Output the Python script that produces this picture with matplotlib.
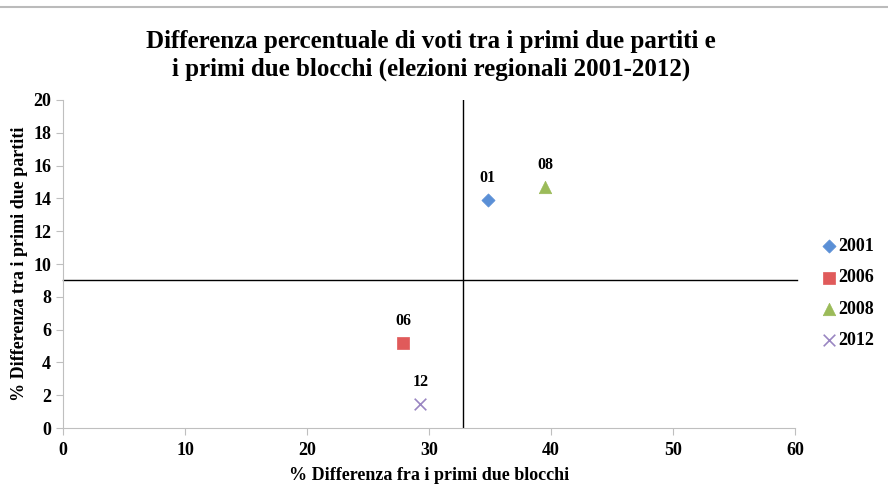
import matplotlib.pyplot as plt

plt.rcParams['font.family'] = ['Liberation Serif', 'DejaVu Serif']
plt.rcParams['font.weight'] = 'bold'

years = ['2001', '2006', '2008', '2012']
short = ['01', '06', '08', '12']
blocchi = [34.8, 27.9, 39.5, 29.3]
partiti = [13.9, 5.2, 14.7, 1.45]
markers = ['D', 's', '^', 'x']
colors = ['#5a8fd6', '#e05a5a', '#9bbb59', '#9a86c2']
sizes = [45, 80, 80, 70]

x_cut = 32.8
y_cut = 9.0

fig = plt.figure(figsize=(8.88, 4.97), dpi=100)
ax = fig.add_axes([0.0709, 0.1388, 0.8244, 0.66])

for i in range(len(years)):
    ax.scatter(blocchi[i], partiti[i], marker=markers[i], s=sizes[i], color=colors[i],
               label=years[i], zorder=3, linewidths=1.2 if markers[i] == 'x' else 0.5,
               edgecolors=None if markers[i] == 'x' else colors[i])
    ax.annotate(short[i], (blocchi[i], partiti[i]), xytext=(0, 10), textcoords='offset points',
                ha='center', va='bottom', fontsize=11.5, fontweight='bold')

ax.axvline(x_cut, color='black', lw=1, zorder=2)
ax.plot([0, 60.2], [y_cut, y_cut], color='black', lw=1, clip_on=False, zorder=2)

ax.set_xlim(0, 60)
ax.set_ylim(0, 20)
ax.set_xticks(range(0, 61, 10))
ax.set_yticks(range(0, 21, 2))
for s in ['top', 'right']:
    ax.spines[s].set_visible(False)
for s in ['left', 'bottom']:
    ax.spines[s].set_color('#bfbfbf')
ax.tick_params(colors='#bfbfbf', labelcolor='black', labelsize=13, length=5)
ax.tick_params(axis='x', pad=5)

ax.set_xlabel('% Differenza fra i primi due blocchi', fontsize=13, fontweight='bold', labelpad=6)
ax.set_ylabel('% Differenza tra i primi due partiti', fontsize=13, fontweight='bold', labelpad=4)

fig.suptitle('Differenza percentuale di voti tra i primi due partiti e\n'
             'i primi due blocchi (elezioni regionali 2001-2012)',
             x=0.485, y=0.94, fontsize=18, fontweight='bold', linespacing=1.25)

ax.legend(loc='center left', bbox_to_anchor=(1.01, 0.41), frameon=False,
          fontsize=13, handletextpad=-0.1, labelspacing=0.8, handlelength=1.2)

fig.add_artist(plt.Line2D([0, 1], [0.985, 0.985], color='#bbbbbb', lw=1.5))

fig.savefig('out.png', dpi=100)
